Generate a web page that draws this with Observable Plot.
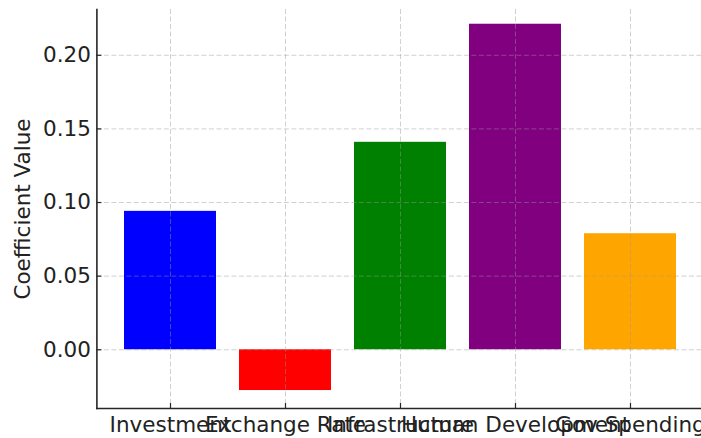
<!DOCTYPE html>
<html>
<head>
<meta charset="utf-8">
<script src="https://cdn.jsdelivr.net/npm/d3@7"></script>
<script src="https://cdn.jsdelivr.net/npm/@observablehq/plot@0.6"></script>
<style>
  html, body { margin: 0; padding: 0; background: #fff; }
  svg { display: block; }
</style>
</head>
<body>
<div id="chart"></div>
<script>
const categories = ["Investment", "Exchange Rate", "Infrastructure", "Human Development", "Gov Spending"];
const values = [0.0940, -0.0277, 0.1409, 0.2211, 0.0788];
const colors = ["#0000ff", "#ff0000", "#008000", "#800080", "#ffa500"];
const yTicks = [0.00, 0.05, 0.10, 0.15, 0.20];
const yDomain = [-0.0399, 0.2311];
const yLabel = "Coefficient Value";

const data = categories.map((c, i) => ({category: c, value: values[i], color: colors[i]}));

const font = "DejaVu Sans, sans-serif";
const fs = 21.5;

const chart = Plot.plot({
  width: 701,
  height: 438,
  marginLeft: 96.4,
  marginRight: -2.6,
  marginTop: 9,
  marginBottom: 30,
  style: {fontFamily: font, fontSize: fs + "px", color: "#222", background: "#fff"},
  x: {domain: categories, paddingInner: 0.2, paddingOuter: 0.24, align: 0.5, label: null},
  y: {domain: yDomain, label: null},
  marks: [
    Plot.barY(data, {x: "category", y: "value", fill: "color"}),
    Plot.gridX({stroke: "#999", strokeOpacity: 0.45, strokeWidth: 1, strokeDasharray: "5,2.5"}),
    Plot.gridY(yTicks, {stroke: "#999", strokeOpacity: 0.45, strokeWidth: 1, strokeDasharray: "5,2.5"}),
    Plot.axisY(yTicks, {tickSize: -5, tickPadding: 11, tickFormat: d3.format(".2f"), fontSize: fs, fill: "#222", stroke: "#262626", strokeWidth: 1.2, label: null}),
    Plot.axisX({tickSize: -5, tickPadding: 13.5, fontSize: fs, fill: "#222", stroke: "#262626", strokeWidth: 1.2, label: null}),
    Plot.frame({anchor: "left", stroke: "#262626", strokeWidth: 1.6}),
    Plot.frame({anchor: "bottom", stroke: "#262626", strokeWidth: 1.6}),
    Plot.text([yLabel], {frameAnchor: "left", textAnchor: "middle", lineAnchor: "middle", rotate: -90, dx: -74, fontSize: fs, fill: "#222"})
  ]
});
document.getElementById("chart").appendChild(chart);
</script>
</body>
</html>
